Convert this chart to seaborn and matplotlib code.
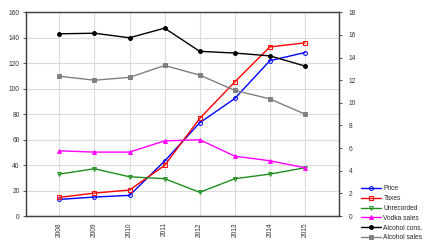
import matplotlib
matplotlib.use("Agg")
import matplotlib.pyplot as plt
import seaborn as sns
import pandas as pd

years = [2008, 2009, 2010, 2011, 2012, 2013, 2014, 2015]
price = [13.0, 14.9, 16.2, 43.1, 73.2, 92.3, 122.0, 128.4]
taxes = [14.6, 18.0, 20.4, 39.7, 76.6, 105.3, 132.8, 136.0]
unrecorded = [32.9, 37.1, 30.8, 29.3, 18.6, 29.3, 32.9, 37.9]
vodka_sales = [51.2, 50.2, 50.2, 59.0, 59.9, 47.0, 43.4, 37.9]
# right axis (litres)
alcohol_cons = [16.1, 16.15, 15.75, 16.6, 14.55, 14.4, 14.15, 13.25]
alcohol_sales = [12.35, 12.0, 12.25, 13.3, 12.45, 11.1, 10.35, 9.0]

sns.set_style("white")
plt.rcParams['font.family'] = ['Liberation Sans', 'DejaVu Sans']

fig = plt.figure(figsize=(4.38, 2.47), dpi=100)
ax = fig.add_axes([26/438, 1-216/247, (339-26)/438, (216-12.3)/247])
ax2 = ax.twinx()

x = list(range(len(years)))
lw = 1.0
ms = 2.8
left_series = [
    ("Price", price, "#0000ff", "o", "none"),
    ("Taxes", taxes, "#ff0000", "s", "none"),
    ("Unrecorded", unrecorded, "#1f8f1f", "v", "none"),
    ("Vodka sales", vodka_sales, "#ff00ff", "^", None),
]
right_series = [
    ("Alcohol cons.", alcohol_cons, "#000000", "o", None),
    ("Alcohol sales", alcohol_sales, "#808080", "s", None),
]
for name, vals, col, mk, mfc in left_series:
    sns.lineplot(x=x, y=vals, ax=ax, color=col, marker=mk, markersize=ms,
                 linewidth=lw, markerfacecolor=col if mfc is None else "none",
                 markeredgecolor=col, markeredgewidth=0.7, label=name, legend=False)
for name, vals, col, mk, mfc in right_series:
    sns.lineplot(x=x, y=vals, ax=ax2, color=col, marker=mk, markersize=ms,
                 linewidth=lw, markerfacecolor=col, markeredgecolor=col,
                 markeredgewidth=0.7, label=name, legend=False)

ax.set_xlim(-0.95, 7.97)
ax.set_ylim(0, 160)
ax2.set_ylim(0, 18)
ax.set_yticks(range(0, 161, 20))
ax2.set_yticks(range(0, 19, 2))
ax.set_xticks(x)
ax.set_xticklabels([str(y) for y in years], rotation=90)
ax.grid(True, color="#dddddd", linewidth=0.8)
ax2.grid(False)
ax.set_axisbelow(True)
for a in (ax, ax2):
    a.tick_params(labelsize=4.8, length=2, width=0.6, pad=2.5, colors="#333333")
    for s in a.spines.values():
        s.set_color("#444444")
        s.set_linewidth(0.9)
ax2.tick_params(pad=5)
ax.set_xlabel("")
ax.set_ylabel("")
ax2.set_ylabel("")

h1, l1 = ax.get_legend_handles_labels()
h2, l2 = ax2.get_legend_handles_labels()
fig.legend(h1 + h2, l1 + l2, loc="lower left", bbox_to_anchor=(356/438, 1/247),
           frameon=False, fontsize=4.8, handlelength=3.0, handletextpad=0.4,
           labelspacing=0.42, borderpad=0.2)

fig.savefig("out.png", dpi=100)
